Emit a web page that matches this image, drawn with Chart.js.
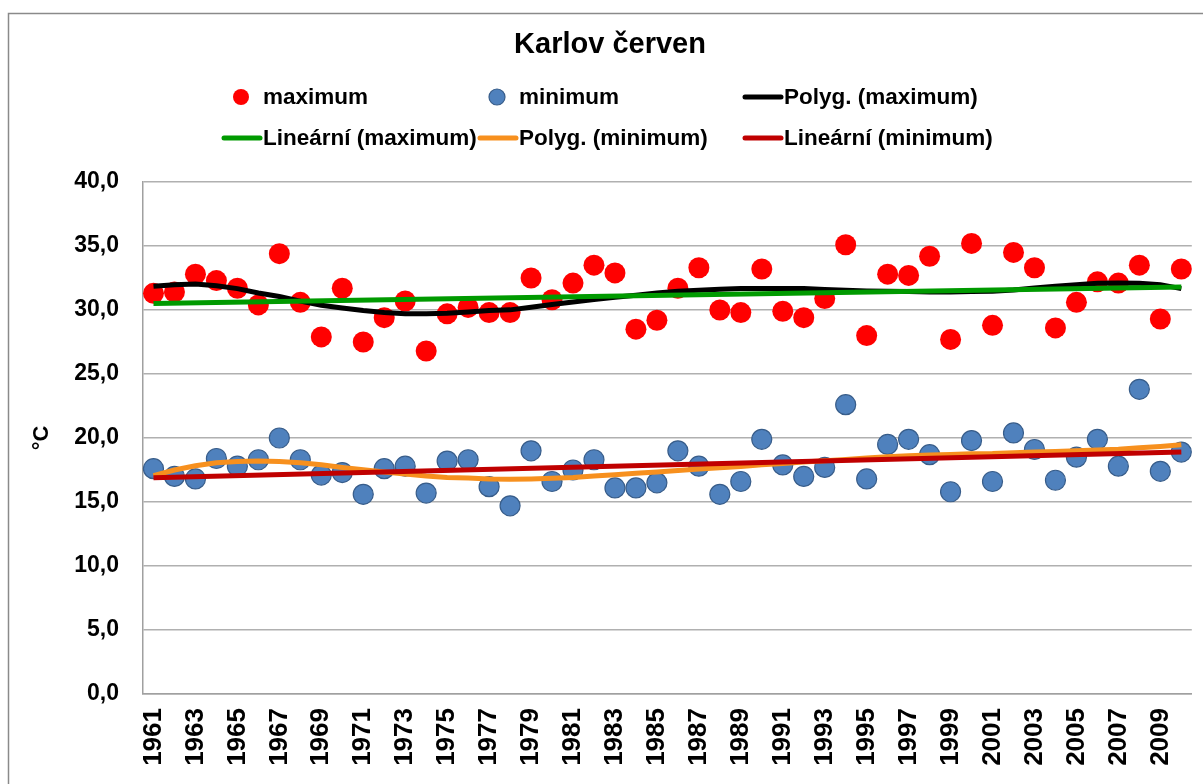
<!DOCTYPE html>
<html lang="cs">
<head>
  <meta charset="UTF-8">
  <title>Karlov červen</title>
  <script src="https://cdn.jsdelivr.net/npm/chart.js@4.4.1/dist/chart.umd.min.js"></script>
  <style>
    html, body { margin: 0; padding: 0; background: #fff; }
    #wrap { width: 1203px; height: 784px; position: relative; }
  </style>
</head>
<body>
<div id="wrap">
  <canvas id="graf" width="1203" height="784"></canvas>
</div>

<script>
  // roky červen 1961-2010
  const roky = ['1961','1962','1963','1964','1965','1966','1967','1968','1969','1970',
                '1971','1972','1973','1974','1975','1976','1977','1978','1979','1980',
                '1981','1982','1983','1984','1985','1986','1987','1988','1989','1990',
                '1991','1992','1993','1994','1995','1996','1997','1998','1999','2000',
                '2001','2002','2003','2004','2005','2006','2007','2008','2009','2010'];

  // popisky osy x - jen liché roky
  const popiskyX = ['1961','1963','1965','1967','1969','1971','1973','1975','1977','1979',
                    '1981','1983','1985','1987','1989','1991','1993','1995','1997','1999',
                    '2001','2003','2005','2007','2009'];

  const maxima = [31.3, 31.4, 32.8, 32.3, 31.7, 30.4, 34.4, 30.6, 27.9, 31.7,
                  27.5, 29.4, 30.7, 26.8, 29.7, 30.2, 29.8, 29.8, 32.5, 30.8,
                  32.1, 33.5, 32.9, 28.5, 29.2, 31.7, 33.3, 30.0, 29.8, 33.2,
                  29.9, 29.4, 30.9, 35.1, 28.0, 32.8, 32.7, 34.2, 27.7, 35.2,
                  28.8, 34.5, 33.3, 28.6, 30.6, 32.2, 32.1, 33.5, 29.3, 33.2];

  const minima = [17.6, 17.0, 16.8, 18.4, 17.8, 18.3, 20.0, 18.3, 17.1, 17.3,
                  15.6, 17.6, 17.8, 15.7, 18.2, 18.3, 16.2, 14.7, 19.0, 16.6,
                  17.5, 18.3, 16.1, 16.1, 16.5, 19.0, 17.8, 15.6, 16.6, 19.9,
                  17.9, 17.0, 17.7, 22.6, 16.8, 19.5, 19.9, 18.7, 15.8, 19.8,
                  16.6, 20.4, 19.1, 16.7, 18.5, 19.9, 17.8, 23.8, 17.4, 18.9];

  // polynomické trendy (hodnoty po rocích)
  const polygMax = [31.85, 31.98, 32.03, 31.90, 31.67, 31.33, 31.05, 30.69, 30.37, 30.16,
                    29.96, 29.80, 29.70, 29.70, 29.75, 29.85, 29.96, 30.01, 30.22, 30.43,
                    30.63, 30.82, 31.00, 31.15, 31.33, 31.46, 31.54, 31.62, 31.67, 31.67,
                    31.67, 31.67, 31.60, 31.54, 31.49, 31.46, 31.44, 31.41, 31.41, 31.44,
                    31.46, 31.57, 31.72, 31.85, 31.98, 32.09, 32.11, 32.09, 31.98, 31.67];

  const polygMin = [17.06, 17.50, 17.83, 18.07, 18.17, 18.20, 18.17, 18.07, 17.91, 17.70,
                    17.52, 17.34, 17.19, 17.03, 16.92, 16.88, 16.80, 16.77, 16.80, 16.85,
                    16.92, 17.03, 17.13, 17.24, 17.34, 17.47, 17.58, 17.68, 17.78, 17.91,
                    18.01, 18.12, 18.22, 18.33, 18.44, 18.54, 18.61, 18.67, 18.72, 18.77,
                    18.79, 18.85, 18.90, 18.95, 19.00, 19.06, 19.13, 19.24, 19.34, 19.47];

  // lineární trendy - koncové body
  const koncoveRoky = ['1961', '2010'];
  const linMax = [30.5, 31.8];
  const linMin = [16.9, 18.9];

  const pismo = '"Liberation Sans", Arial, sans-serif';

  // titulek, legenda ve třech sloupcích a rámeček grafu
  const popisky = {
    id: 'popisky',
    afterDraw(chart) {
      const ctx = chart.ctx;
      ctx.save();

      ctx.strokeStyle = '#8a8a8a';
      ctx.lineWidth = 1.5;
      ctx.strokeRect(8.5, 13.5, 1210, 800);

      ctx.fillStyle = '#000';
      ctx.font = 'bold 29px ' + pismo;
      ctx.textAlign = 'center';
      ctx.textBaseline = 'middle';
      ctx.fillText('Karlov červen', 610, 45);

      const sloupce = [222, 478, 743];
      const radky = [97, 138];
      ctx.font = 'bold 22.5px ' + pismo;
      ctx.textAlign = 'left';
      chart.data.datasets.forEach((ds, i) => {
        const x0 = sloupce[i % 3];
        const y = radky[Math.floor(i / 3)];
        if (ds.showLine === false) {
          ctx.beginPath();
          ctx.arc(x0 + 19, y, 8, 0, Math.PI * 2);
          ctx.fillStyle = ds.pointBackgroundColor;
          ctx.fill();
          if (ds.pointBorderWidth) {
            ctx.lineWidth = ds.pointBorderWidth;
            ctx.strokeStyle = ds.pointBorderColor;
            ctx.stroke();
          }
        } else {
          ctx.beginPath();
          ctx.lineCap = 'round';
          ctx.lineWidth = 5;
          ctx.strokeStyle = ds.borderColor;
          ctx.moveTo(x0 + 2, y);
          ctx.lineTo(x0 + 38, y);
          ctx.stroke();
        }
        ctx.fillStyle = '#000';
        ctx.fillText(ds.label, x0 + 41, y + 1);
      });

      ctx.restore();
    }
  };

  const carovyTrend = (label, data, barva, poradi) => ({
    label: label,
    data: data,
    borderColor: barva,
    backgroundColor: barva,
    borderWidth: 5,
    pointRadius: 0,
    tension: 0,
    fill: false,
    order: poradi
  });

  new Chart(document.getElementById('graf'), {
    type: 'line',
    data: {
      labels: roky,
      datasets: [
        {
          label: 'maximum',
          data: maxima,
          showLine: false,
          pointRadius: 10.5,
          pointBackgroundColor: '#ff0000',
          pointBorderColor: '#ff0000',
          pointBorderWidth: 0,
          order: 6
        },
        {
          label: 'minimum',
          data: minima,
          showLine: false,
          pointRadius: 10,
          pointBackgroundColor: '#4f81bd',
          pointBorderColor: '#385d8a',
          pointBorderWidth: 1.2,
          order: 5
        },
        carovyTrend('Polyg. (maximum)', polygMax, '#000000', 4),
        carovyTrend('Lineární (maximum)', koncoveRoky.map((r, i) => ({ x: r, y: linMax[i] })), '#009a00', 3),
        carovyTrend('Polyg. (minimum)', polygMin, '#f7901e', 2),
        carovyTrend('Lineární (minimum)', koncoveRoky.map((r, i) => ({ x: r, y: linMin[i] })), '#c00000', 1)
      ]
    },
    options: {
      responsive: false,
      animation: false,
      layout: { padding: { top: 182, right: 9, left: 0, bottom: 0 } },
      plugins: {
        legend: { display: false },
        title: { display: false },
        tooltip: { enabled: false }
      },
      scales: {
        x: {
          type: 'category',
          offset: true,
          grid: { display: false, drawTicks: false },
          border: { display: true, color: '#a0a0a0', width: 1.5 },
          ticks: {
            autoSkip: false,
            minRotation: 90,
            maxRotation: 90,
            padding: 14,
            color: '#000',
            font: { family: pismo, size: 26, weight: 'bold' },
            callback: function(value) {
              const rok = this.getLabelForValue(value);
              return popiskyX.includes(rok) ? rok : '';
            }
          },
          afterFit: s => {
            s.height = 90;
            s.paddingLeft = 0;
            s.paddingRight = 0;
          }
        },
        y: {
          min: 0,
          max: 40,
          grid: { color: '#b0b0b0', lineWidth: 1.5, drawTicks: false },
          border: { display: true, color: '#a0a0a0', width: 1.5 },
          ticks: {
            stepSize: 5,
            padding: 24,
            color: '#000',
            font: { family: pismo, size: 23, weight: 'bold' },
            callback: v => v.toFixed(1).replace('.', ',')
          },
          title: {
            display: true,
            text: '°C',
            color: '#000',
            font: { family: pismo, size: 22, weight: 'bold' },
            padding: { top: 29, bottom: 0 }
          },
          afterFit: s => { s.width = 143; }
        }
      }
    },
    plugins: [popisky]
  });
</script>
</body>
</html>
